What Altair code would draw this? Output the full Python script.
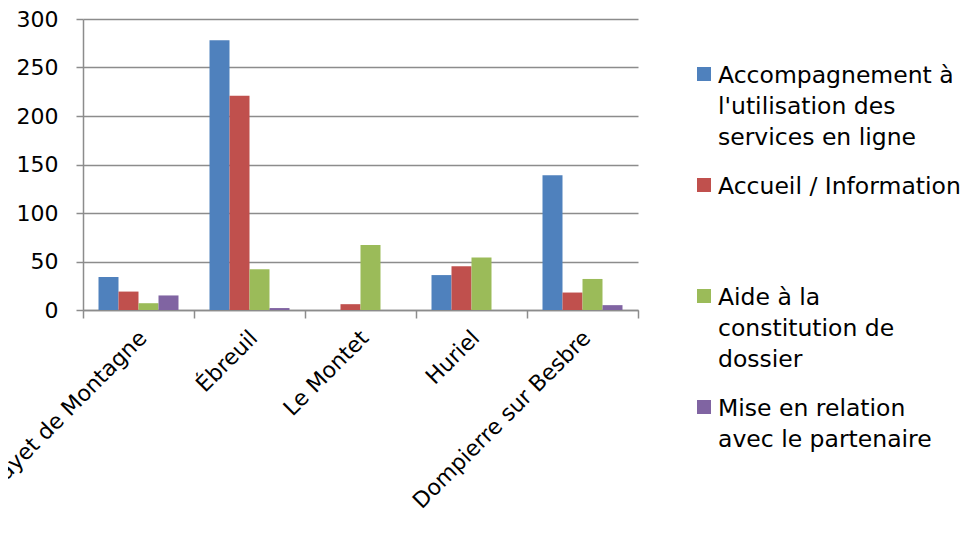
import altair as alt
import pandas as pd

COMMUNES = ["Le Mayet de Montagne", "Ébreuil", "Le Montet", "Huriel", "Dompierre sur Besbre"]
SERIES = [
    "Accompagnement à l'utilisation des services en ligne",
    "Accueil / Information",
    "Aide à la constitution de dossier",
    "Mise en relation avec le partenaire",
]
LEGEND_LABELS = [
    "Accompagnement à\nl'utilisation des\nservices en ligne",
    "Accueil / Information",
    "Aide à la\nconstitution de\ndossier",
    "Mise en relation\navec le partenaire",
]
COLORS = ["#4F81BD", "#C0504D", "#9BBB59", "#8064A2"]
ACCOMPAGNEMENT = [34, 278, 0, 36, 139]
ACCUEIL = [19, 221, 6, 45, 18]
AIDE = [7, 42, 67, 54, 32]
MISE_EN_RELATION = [15, 2, 0, 0, 5]
Y_TICKS = [0, 50, 100, 150, 200, 250, 300]

FONT = "DejaVu Sans"
GRAY = "#8c8c8c"

rows = []
for s, vals in zip(SERIES, [ACCOMPAGNEMENT, ACCUEIL, AIDE, MISE_EN_RELATION]):
    for c, v in zip(COMMUNES, vals):
        rows.append({"commune": c, "serie": s, "valeur": v})
df = pd.DataFrame(rows)
leg_df = pd.DataFrame({"serie": SERIES, "label": LEGEND_LABELS})

color = alt.Color("serie:N", scale=alt.Scale(domain=SERIES, range=COLORS), legend=None)

bars = alt.Chart(df).mark_bar().encode(
    x=alt.X(
        "commune:N",
        sort=COMMUNES,
        scale=alt.Scale(paddingInner=0, paddingOuter=0),
        axis=alt.Axis(
            title=None, labelAngle=-45, labelAlign="right", labelBaseline="middle",
            labelPadding=16, labelOffset=4, tickBand="extent", tickSize=8,
            tickColor=GRAY, tickWidth=1.5, domainColor=GRAY, domainWidth=1.5,
            labelFontSize=22, labelFont=FONT, labelColor="black", grid=False,
            labelLimit=500,
        ),
    ),
    xOffset=alt.XOffset("serie:N", scale=alt.Scale(domain=SERIES, paddingInner=0, paddingOuter=0.775)),
    y=alt.Y(
        "valeur:Q",
        scale=alt.Scale(domain=[0, 300], nice=False),
        axis=alt.Axis(
            title=None, values=Y_TICKS, grid=True, gridColor=GRAY, gridWidth=1.5,
            tickSize=7, tickColor=GRAY, tickWidth=1.5, domainColor=GRAY, domainWidth=1.5,
            labelFontSize=22, labelFont=FONT, labelColor="black", labelPadding=18,
        ),
    ),
    color=color,
)

leg_y = alt.Y(
    "serie:N",
    scale=alt.Scale(type="point", domain=SERIES, range=[55, 388], padding=0),
    axis=None,
)
squares = alt.Chart(leg_df).mark_square(size=196, opacity=1).encode(
    x=alt.value(621), y=leg_y, color=color
)
texts = alt.Chart(leg_df).mark_text(
    align="left", baseline="top", dy=-10, lineBreak="\n", lineHeight=31,
    fontSize=23.5, font=FONT, color="black",
).encode(x=alt.value(635), y=leg_y, text="label:N")

chart = (
    alt.layer(bars, squares, texts)
    .resolve_scale(y="independent")
    .properties(
        width=555,
        height=291,
        padding={"left": 75, "top": 11, "right": 325, "bottom": 208},
        autosize=alt.AutoSizeParams(type="none"),
    )
    .configure_view(stroke=None)
)

chart.save("out.html", embed_options={"renderer": "svg", "actions": False})
